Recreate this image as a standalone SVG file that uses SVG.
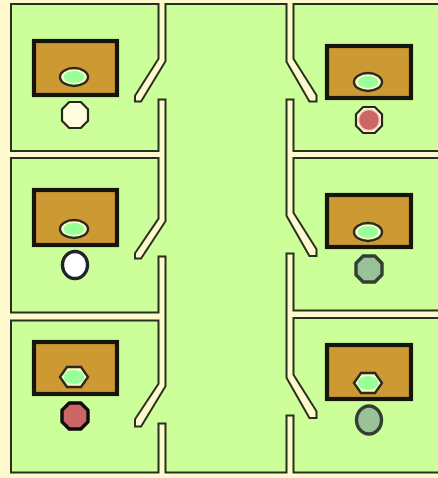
<svg xmlns="http://www.w3.org/2000/svg" width="438" height="478" viewBox="0 0 438 478">
<style>
.desk{fill:#cc9933;stroke:#15150c;stroke-width:4.2}
.pad{fill:#fffacd;stroke:#2a2a1c;stroke-width:2.4}
.in{fill:#99ff99}
.dk{fill:#28301f;stroke:#28301f;stroke-width:4;stroke-linejoin:miter}
.cr{fill:#fffacd}
.s1{fill:#fffce0;stroke:#262619;stroke-width:2.2;stroke-linejoin:round}
.s2{fill:#ffffff;stroke:#22222f;stroke-width:3.4}
.s3{fill:#cc6666;stroke:#0c0c0c;stroke-width:3.4;stroke-linejoin:round}
.s4{fill:#99c299;stroke:#343f34;stroke-width:3.4;stroke-linejoin:round}
.s5{fill:#cc6666;stroke:#f5d5b5;stroke-width:1.5}
</style>
<defs>
<polygon id="oct" points="-5.800,-13 5.800,-13 13,-5.800 13,5.800 5.800,13 -5.800,13 -13,5.800 -13,-5.800"/>
<polygon id="hex" points="-14,0 -7,-10 7,-10 14,0 7,10 -7,10"/>
<ellipse id="ell" rx="14" ry="9"/>
<ellipse id="gel" rx="10.500" ry="6"/>
<ellipse id="geh" rx="10.500" ry="7"/>
<path id="walls" d="M-5,-5H443V3H-5Z M-5,-5H10V483H-5Z M-5,473.500H443V483H-5Z
M159.500,-5H164.500V61L140.500,100.500H136V96L159.500,59Z
M159.500,100.500H164.500V221L140.500,257.500H136V253.500L159.500,219Z
M159.500,257.500H164.500V386L140.500,425.500H136V419.500L159.500,384Z
M159.500,424.500H164.500V483H159.500Z
M287.500,-5H292.500V59L315.500,95.500V100.500H310L287.500,61.500Z
M287.500,100.500H292.500V213L315.500,249.500V255H310L287.500,215.500Z
M287.500,254.500H292.500V375L315.500,411.500V417H310L287.500,377.500Z
M287.500,416.500H292.500V483H287.500Z
M-5,152H162V157H-5Z M-5,313.500H162V319.500H-5Z
M290,152H443V157H290Z M290,311.500H443V317H290Z"/>
</defs>
<rect x="0" y="0" width="438" height="478" fill="#ccff99"/>
<g id="connectors">
<use href="#walls" class="dk"/>
<use href="#walls" class="cr"/>
</g>
<g id="room-l1">
<rect class="desk" x="34" y="41" width="83" height="54"/>
<use href="#ell" class="pad" x="74" y="77"/><use href="#gel" class="in" x="74" y="77"/>
<use href="#oct" class="s1" x="75" y="115"/>
</g>
<g id="room-l2">
<rect class="desk" x="34" y="190" width="83" height="55"/>
<use href="#ell" class="pad" x="74" y="229"/><use href="#gel" class="in" x="74" y="229"/>
<ellipse class="s2" cx="75" cy="265" rx="12.500" ry="13.500"/>
</g>
<g id="room-l3">
<rect class="desk" x="34" y="342" width="83" height="52"/>
<use href="#hex" class="pad" x="74" y="377"/><use href="#geh" class="in" x="74" y="377"/>
<use href="#oct" class="s3" x="75" y="416"/>
</g>
<g id="room-r1">
<rect class="desk" x="327" y="46" width="84" height="52"/>
<use href="#ell" class="pad" x="368" y="82"/><use href="#gel" class="in" x="368" y="82"/>
<use href="#oct" class="s1" x="369" y="120"/>
<ellipse class="s5" cx="369" cy="120" rx="10.500" ry="10.500"/>
</g>
<g id="room-r2">
<rect class="desk" x="327" y="195" width="84" height="52"/>
<use href="#ell" class="pad" x="368" y="232"/><use href="#gel" class="in" x="368" y="232"/>
<use href="#oct" class="s4" x="369" y="269"/>
</g>
<g id="room-r3">
<rect class="desk" x="327" y="345" width="84" height="54"/>
<use href="#hex" class="pad" x="368" y="383"/><use href="#geh" class="in" x="368" y="383"/>
<ellipse class="s4" cx="369" cy="420" rx="12.500" ry="14"/>
</g>
</svg>
